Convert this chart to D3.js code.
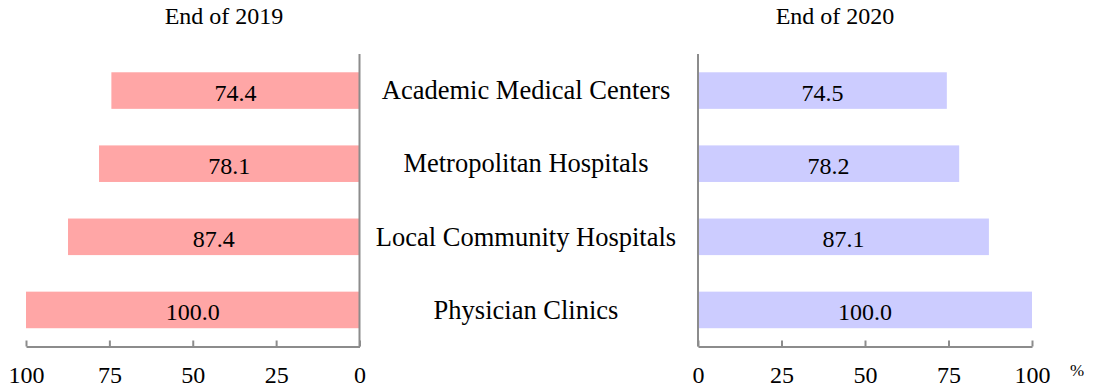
<!DOCTYPE html>
<html>
<head>
<meta charset="utf-8">
<script src="https://cdn.jsdelivr.net/npm/d3@7"></script>
<style>
  html, body { margin: 0; padding: 0; background: #fff; }
  svg text { font-family: "Liberation Serif", "Times New Roman", serif; fill: #000; }
</style>
</head>
<body>
<svg id="chart" width="1093" height="387"></svg>
<script>
// Categories and values for each year
const categories = ["Academic Medical Centers", "Metropolitan Hospitals", "Local Community Hospitals", "Physician Clinics"];
const values2019 = [74.4, 78.1, 87.4, 100.0];
const values2020 = [74.5, 78.2, 87.1, 100.0];
const tickValues = [0, 25, 50, 75, 100];
const panelTitles = ["End of 2019", "End of 2020"];

const svg = d3.select("#chart");
const axisColor = "#8c8c8c";
const plotTop = 54, plotBottom = 346.5;

const y = d3.scaleBand()
  .domain(categories)
  .range([plotTop, plotBottom])
  .paddingInner(0.5)
  .paddingOuter(0.25);

// Left panel grows leftwards from zero; right panel grows rightwards
const xLeft = d3.scaleLinear().domain([0, 100]).range([359.5, 26]);
const xRight = d3.scaleLinear().domain([0, 100]).range([698, 1032]);

function panel(x, values, fill, title, titleX) {
  const g = svg.append("g");

  g.selectAll("rect.bar")
    .data(values)
    .join("rect")
    .attr("class", "bar")
    .attr("x", d => Math.min(x(0), x(d)))
    .attr("width", d => Math.abs(x(d) - x(0)))
    .attr("y", (d, i) => y(categories[i]))
    .attr("height", y.bandwidth())
    .attr("fill", fill);

  g.selectAll("text.val")
    .data(values)
    .join("text")
    .attr("class", "val")
    .attr("x", d => (x(0) + x(d)) / 2)
    .attr("y", (d, i) => y(categories[i]) + y.bandwidth() / 2)
    .attr("dy", "0.42em")
    .attr("text-anchor", "middle")
    .style("font-size", "24px")
    .text(d => d.toFixed(1));

  // Vertical baseline at zero
  g.append("line")
    .attr("x1", x(0)).attr("x2", x(0))
    .attr("y1", plotTop).attr("y2", plotBottom)
    .attr("stroke", axisColor).attr("stroke-width", 2);

  const axis = d3.axisTop(x).tickValues(tickValues).tickSize(6).tickSizeOuter(0).tickFormat(d3.format("d"));
  const ag = g.append("g")
    .attr("transform", `translate(0,${plotBottom})`)
    .call(axis);
  ag.select(".domain").attr("stroke", axisColor).attr("stroke-width", 2);
  ag.selectAll(".tick line").attr("stroke", axisColor).attr("stroke-width", 2);
  ag.selectAll(".tick text")
    .attr("y", 36.5)
    .attr("dy", 0)
    .style("font-size", "24px")
    .attr("fill", "#000");

  g.append("text")
    .attr("x", titleX)
    .attr("y", 24)
    .attr("text-anchor", "middle")
    .style("font-size", "24px")
    .text(title);
}

panel(xLeft, values2019, "#ffa6a6", panelTitles[0], 224);
panel(xRight, values2020, "#ccccff", panelTitles[1], 835);

// Category labels between the panels
svg.selectAll("text.cat")
  .data(categories)
  .join("text")
  .attr("class", "cat")
  .attr("x", 526)
  .attr("y", d => y(d) + y.bandwidth() / 2)
  .attr("dy", "0.33em")
  .attr("text-anchor", "middle")
  .style("font-size", "26.5px")
  .text(d => d);

svg.append("text")
  .attr("x", 1077)
  .attr("y", 376)
  .attr("text-anchor", "middle")
  .style("font-size", "17px")
  .text("%");
</script>
</body>
</html>
